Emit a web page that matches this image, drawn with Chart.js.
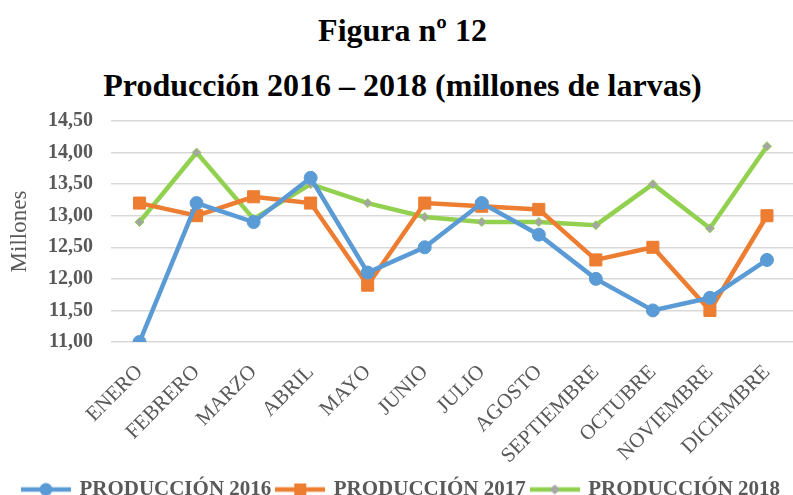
<!DOCTYPE html>
<html>
<head>
<meta charset="utf-8">
<script src="https://cdn.jsdelivr.net/npm/chart.js@4"></script>
<style>
  html, body { margin:0; padding:0; background:#fff; overflow:hidden; }
  #wrap { position:relative; width:805px; height:495px; }
  .ttl { position:absolute; left:0; width:805px; text-align:center; font-family:"Liberation Serif", "Times New Roman", serif; font-weight:bold; font-size:32px; line-height:36px; color:#000; }
  #chart { position:absolute; left:0; top:0; }
</style>
</head>
<body>
<div id="wrap">
  <div class="ttl" style="top:12px">Figura nº 12</div>
  <div class="ttl" style="top:67px">Producción 2016 – 2018 (millones de larvas)</div>
  <canvas id="chart" width="805" height="510"></canvas>
</div>
<script>
// meses y producción (millones de larvas)
const meses = ['ENERO','FEBRERO','MARZO','ABRIL','MAYO','JUNIO','JULIO','AGOSTO','SEPTIEMBRE','OCTUBRE','NOVIEMBRE','DICIEMBRE'];
const prod2016 = [11.0, 13.2, 12.9, 13.6, 12.1, 12.5, 13.2, 12.7, 12.0, 11.5, 11.7, 12.3];
const prod2017 = [13.2, 13.0, 13.3, 13.2, 11.9, 13.2, 13.15, 13.1, 12.3, 12.5, 11.5, 13.0];
const prod2018 = [12.9, 14.0, 12.95, 13.5, 13.2, 12.98, 12.9, 12.9, 12.85, 13.5, 12.8, 14.1];
const yMin = 11, yMax = 14.5, yStep = 0.5;

const SERIF = '"Liberation Serif", "Times New Roman", serif';
const GREY = '#595959';

// muestra de leyenda: línea con marcador en medio
function legendSample(color, marker, fill){
  const c = document.createElement('canvas'); c.width = 50; c.height = 16;
  const g = c.getContext('2d');
  g.strokeStyle = color; g.lineWidth = 4.5;
  g.beginPath(); g.moveTo(0, 8); g.lineTo(50, 8); g.stroke();
  g.fillStyle = fill || color;
  g.beginPath();
  if (marker === 'circle') g.arc(25, 8, 6.5, 0, Math.PI*2);
  else if (marker === 'rect') g.rect(19, 2, 12, 12);
  else { g.moveTo(25, 3); g.lineTo(30, 8); g.lineTo(25, 13); g.lineTo(20, 8); g.closePath(); }
  g.fill();
  return c;
}

const series = [
  { label:'PRODUCCIÓN 2016', data:prod2016, color:'#5B9BD5', style:'circle', radius:6.5, fill:'#5B9BD5' },
  { label:'PRODUCCIÓN 2017', data:prod2017, color:'#ED7D31', style:'rect', radius:8.5, fill:'#ED7D31' },
  { label:'PRODUCCIÓN 2018', data:prod2018, color:'#92D050', style:'rectRot', radius:4.5, fill:'#A5A5A5' }
];

new Chart(document.getElementById('chart'), {
  type: 'line',
  data: {
    labels: meses,
    datasets: series.map(s => ({
      label: s.label, data: s.data,
      borderColor: s.color, backgroundColor: s.fill,
      borderWidth: 4.5, tension: 0,
      pointStyle: s.style, pointRadius: s.radius, pointHoverRadius: s.radius,
      pointBackgroundColor: s.fill,
      pointBorderColor: s.style === 'rectRot' ? s.color : s.fill,
      pointBorderWidth: 1,
      legendImg: legendSample(s.color, s.style === 'rectRot' ? 'diamond' : s.style, s.fill)
    }))
  },
  options: {
    responsive: false, animation: false,
    layout: { padding: { top: 121, right: 2, left: 0, bottom: 0 } },
    plugins: {
      tooltip: { enabled:false },
      legend: {
        position: 'bottom',
        labels: {
          usePointStyle: true, pointStyleWidth: 46, boxHeight: 16,
          padding: 6, color: GREY,
          font: { family: SERIF, size: 21, weight: 'bold' },
          generateLabels(chart){
            return chart.data.datasets.map((d, i) => ({
              text: d.label, datasetIndex: i, pointStyle: d.legendImg,
              fillStyle: d.borderColor, strokeStyle: d.borderColor, lineWidth: 0, fontColor: GREY
            }));
          }
        }
      }
    },
    scales: {
      x: {
        offset: true,
        grid: { display:false },
        border: { display:false },
        ticks: { color: GREY, minRotation: 45, maxRotation: 45, padding: 10,
                 font: { family: SERIF, size: 21 } },
        afterFit(scale){ scale.height = 131; }
      },
      y: {
        min: yMin, max: yMax,
        grid: { color:'#D9D9D9', lineWidth: 1.5, drawTicks:false },
        border: { display:false },
        ticks: { stepSize: yStep, color: GREY, padding: 18,
                 font: { family: SERIF, size: 20, weight:'bold' },
                 callback: v => v.toFixed(2).replace('.', ',') },
        title: { display:true, text:'Millones', color: GREY, padding:{ top:6, bottom:0 },
                 font: { family: SERIF, size: 23 } },
        afterFit(scale){ scale.width = 111; }
      }
    }
  }
});
</script>
</body>
</html>
